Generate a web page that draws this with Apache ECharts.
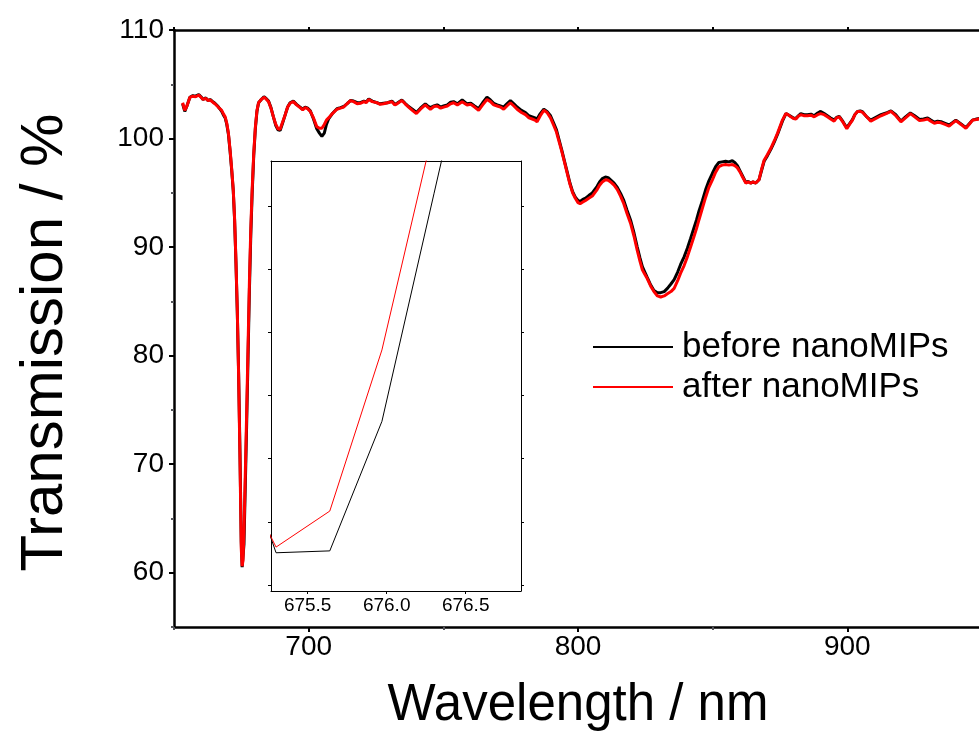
<!DOCTYPE html>
<html>
<head>
<meta charset="utf-8">
<script src="https://cdn.jsdelivr.net/npm/echarts@6/dist/echarts.min.js"></script>
<style>
  html, body { margin: 0; padding: 0; background: #fff; }
  #chart { width: 979px; height: 731px; }
</style>
</head>
<body>
<div id="chart"></div>
<script>
// wavelength (nm) shared by both spectra
const wavelength = [
  653.2, 654.0, 654.8, 655.9, 657.0, 658.0, 659.2, 660.0, 660.8, 661.8,
  662.6, 663.4, 664.4, 665.2, 666.4, 667.7, 668.5, 669.0, 669.6, 670.2,
  670.8, 671.45, 672.0, 672.5, 673.0, 673.5, 674.0, 674.5, 674.97, 675.30,
  675.64, 675.97, 676.30, 676.63, 677.0, 677.5, 678.0, 678.5, 679.0, 679.6,
  680.2, 680.8, 681.4, 682.4, 683.4, 684.2, 685.1, 686.0, 686.9, 687.8,
  688.6, 689.4, 690.3, 691.3, 692.2, 693.1, 694.3, 695.5, 696.8, 697.8,
  698.7, 699.6, 700.6, 701.8, 703.0, 704.0, 704.9, 705.8, 706.6, 707.4,
  708.8, 710.5, 711.8, 713.0, 714.2, 715.5, 716.7, 718.0, 719.2, 720.5,
  721.4, 722.3, 723.6, 725.4, 726.5, 727.8, 729.3, 730.9, 732.0, 732.8,
  734.6, 735.8, 737.1, 738.5, 740.0, 741.5, 743.3, 744.2, 745.2, 746.5,
  747.7, 749.0, 750.1, 751.5, 752.7, 753.8, 755.2, 757.0, 758.8, 760.2,
  761.6, 763.1, 764.6, 766.2, 767.5, 768.7, 770.0, 771.2, 772.4, 773.6,
  774.9, 776.2, 777.4, 779.0, 780.5, 781.8, 783.0, 784.0, 784.8, 786.0,
  787.3, 788.5, 789.8, 791.0, 792.0, 793.0, 794.0, 795.0, 796.0, 797.0,
  798.0, 799.0, 800.0, 800.8, 801.8, 802.8, 804.0, 805.3, 806.2, 807.1,
  808.0, 809.0, 810.2, 811.2, 812.1, 813.4, 814.6, 815.8, 817.0, 818.2,
  819.5, 820.8, 822.0, 823.0, 823.9, 824.8, 825.7, 827.0, 828.2, 829.5,
  830.7, 832.0, 833.2, 834.5, 835.7, 837.0, 838.1, 839.4, 840.6, 841.8,
  843.1, 844.0, 844.9, 846.2, 847.4, 848.6, 849.9, 851.1, 852.3, 853.5,
  854.8, 856.0, 857.3, 858.2, 859.2, 860.2, 861.0, 862.3, 863.2, 864.1,
  865.0, 866.0, 867.2, 868.2, 869.1, 870.3, 871.6, 872.9, 874.1, 875.0,
  875.9, 877.2, 878.0, 879.0, 880.0, 880.9, 881.8, 882.7, 884.0, 885.2,
  886.5, 887.7, 889.0, 890.1, 891.4, 892.6, 893.8, 895.1, 896.0, 897.0,
  898.4, 899.8, 900.8, 901.9, 902.8, 903.8, 904.8, 905.7, 907.2, 908.7,
  910.6, 912.5, 914.4, 916.2, 918.0, 919.9, 921.6, 923.4, 925.0, 926.8,
  928.3, 929.8, 931.0, 932.3, 933.5, 934.8, 936.3, 937.8, 939.0, 940.3,
  942.2, 944.0, 945.2, 946.5, 948.0, 949.3, 951.0
]

// transmission (%) before nanoMIPs
const before = [
  103.2, 102.5, 103.0, 103.8, 103.95, 103.9, 104.05, 103.85, 103.6, 103.75,
  103.5, 103.6, 103.4, 103.25, 102.95, 102.5, 102.1, 101.9, 101.3, 100.4,
  98.9, 97.0, 95.2, 92.5, 88.6, 84.0, 78.3, 71.0, 62.9, 60.51,
  60.54, 62.59, 66.20, 69.8, 74.0, 80.0, 86.0, 91.0, 94.8, 98.4,
  100.9, 102.5, 103.3, 103.6, 103.85, 103.7, 103.45, 102.85, 102.0, 101.2,
  100.8, 100.75, 101.4, 102.2, 102.9, 103.3, 103.45, 103.15, 102.9, 102.7,
  102.9, 102.8, 102.55, 101.8, 100.9, 100.5, 100.2, 100.5, 101.3, 101.8,
  102.3, 102.75, 102.85, 102.95, 103.2, 103.5, 103.45, 103.3, 103.3, 103.45,
  103.35, 103.65, 103.45, 103.3, 103.2, 103.25, 103.3, 103.45, 103.15, 103.25,
  103.55, 103.25, 102.95, 102.7, 102.4, 102.8, 103.2, 103.0, 102.85, 103.0,
  103.1, 102.9, 103.0, 103.1, 103.35, 103.4, 103.2, 103.55, 103.2, 103.25,
  103.0, 102.75, 103.3, 103.8, 103.55, 103.25, 103.1, 103.0, 102.9, 103.2,
  103.5, 103.2, 102.9, 102.6, 102.4, 102.1, 102.0, 101.9, 101.8, 102.3,
  102.7, 102.5, 102.1, 101.4, 100.8, 99.85, 98.9, 97.9, 96.9, 95.9,
  95.1, 94.6, 94.3, 94.2, 94.4, 94.5, 94.75, 95.0, 95.3, 95.6,
  96.0, 96.3, 96.45, 96.4, 96.2, 95.9, 95.5, 94.95, 94.3, 93.4,
  92.5, 91.3, 90.0, 89.0, 88.2, 87.7, 87.2, 86.5, 86.0, 85.8,
  85.8, 85.9, 86.2, 86.6, 87.0, 87.7, 88.4, 89.1, 89.9, 90.8,
  91.8, 92.5, 93.3, 94.3, 95.3, 96.1, 96.8, 97.4, 97.8, 97.85,
  97.9, 97.85, 97.95, 97.8, 97.5, 97.0, 96.6, 95.95, 96.05, 95.9,
  96.0, 95.9, 96.2, 97.1, 97.9, 98.4, 99.0, 99.7, 100.4, 101.0,
  101.6, 102.3, 102.2, 102.05, 101.9, 101.85, 102.1, 102.3, 102.2, 102.2,
  102.25, 102.1, 102.35, 102.5, 102.3, 102.1, 101.9, 101.7, 101.95, 102.05,
  101.55, 101.0, 101.35, 101.75, 102.2, 102.5, 102.55, 102.45, 102.0, 101.7,
  101.95, 102.2, 102.35, 102.55, 102.2, 101.6, 102.0, 102.35, 102.1, 101.75,
  101.8, 101.9, 101.7, 101.5, 101.6, 101.55, 101.4, 101.25, 101.45, 101.7,
  101.35, 101.0, 101.35, 101.7, 101.8, 101.85, 101.9
]

// transmission (%) after nanoMIPs
const after = [
  103.3, 102.6, 103.0, 103.8, 103.9, 103.85, 104.0, 103.8, 103.6, 103.7,
  103.5, 103.55, 103.35, 103.2, 102.9, 102.6, 102.2, 102.0, 101.4, 100.5,
  99.0, 97.1, 95.3, 92.6, 88.7, 84.2, 78.0, 70.4, 62.25, 60.60,
  61.17, 63.72, 67.25, 70.9, 75.0, 81.0, 86.8, 91.6, 95.2, 98.6,
  101.0, 102.6, 103.3, 103.6, 103.8, 103.65, 103.4, 102.8, 102.0, 101.3,
  100.9, 100.85, 101.5, 102.2, 102.9, 103.25, 103.4, 103.1, 102.85, 102.65,
  102.85, 102.75, 102.5, 101.9, 101.1, 100.95, 100.95, 101.3, 101.7, 101.9,
  102.3, 102.7, 102.8, 102.9, 103.2, 103.5, 103.4, 103.2, 103.25, 103.4,
  103.3, 103.6, 103.4, 103.3, 103.15, 103.2, 103.3, 103.4, 103.1, 103.2,
  103.5, 103.2, 102.9, 102.6, 102.3, 102.7, 103.1, 102.9, 102.7, 102.95,
  103.0, 102.8, 102.9, 103.0, 103.2, 103.3, 103.1, 103.4, 103.1, 103.15,
  102.9, 102.6, 103.1, 103.6, 103.4, 103.1, 103.0, 102.9, 102.7, 103.0,
  103.3, 103.0, 102.7, 102.4, 102.2, 101.9, 101.8, 101.7, 101.55, 102.1,
  102.6, 102.4, 101.9, 101.2, 100.6, 99.7, 98.8, 97.8, 96.8, 95.8,
  95.0, 94.5, 94.1, 94.0, 94.15, 94.3, 94.5, 94.7, 95.0, 95.3,
  95.7, 96.0, 96.2, 96.15, 96.0, 95.7, 95.3, 94.7, 94.0, 93.1,
  92.2, 91.0, 89.7, 88.7, 87.9, 87.5, 87.1, 86.4, 85.9, 85.5,
  85.4, 85.5, 85.7, 85.9, 86.2, 86.9, 87.6, 88.3, 89.1, 90.0,
  91.0, 91.7, 92.5, 93.6, 94.6, 95.5, 96.2, 96.9, 97.4, 97.55,
  97.6, 97.55, 97.6, 97.5, 97.3, 96.9, 96.5, 95.9, 96.0, 95.9,
  96.0, 95.9, 96.2, 97.2, 98.0, 98.5, 99.1, 99.8, 100.5, 101.1,
  101.7, 102.3, 102.2, 102.0, 101.85, 101.8, 102.05, 102.2, 102.1, 102.1,
  102.15, 102.0, 102.2, 102.3, 102.2, 102.0, 101.8, 101.6, 101.9, 102.0,
  101.5, 100.9, 101.3, 101.7, 102.2, 102.5, 102.5, 102.4, 102.0, 101.6,
  101.85, 102.1, 102.3, 102.5, 102.1, 101.55, 101.9, 102.3, 102.0, 101.65,
  101.7, 101.8, 101.6, 101.4, 101.5, 101.45, 101.3, 101.15, 101.4, 101.65,
  101.3, 100.95, 101.3, 101.7, 101.75, 101.85, 101.9
]

const seriesNames = ['before nanoMIPs', 'after nanoMIPs']

// tick values
const xTicks = [700, 800, 900]
const xMinorTicks = [650, 750, 850, 950]
const yTicks = [60, 70, 80, 90, 100, 110]
const yMinorTicks = [55, 65, 75, 85, 95, 105]
const insetXTicks = [675.5, 676.0, 676.5]
const insetYTicks = [60, 61, 62, 63, 64, 65, 66]

const font = '"Liberation Sans", Arial, sans-serif'
const black = '#000'
const red = '#ff0000'

const pairs = ys => wavelength.map((w, i) => [w, ys[i]])

const frame = (w) => ({ show: true, lineStyle: { color: black, width: w } })

const option = {
  animation: false,
  backgroundColor: '#fff',
  textStyle: { fontFamily: font, color: black },
  grid: [
    { left: 174, top: 30, right: -3, bottom: 104, outerBoundsMode: 'none' },
    { left: 271, top: 161, width: 250, height: 430, outerBoundsMode: 'none' }
  ],
  legend: {
    data: seriesNames,
    orient: 'vertical',
    left: 593,
    top: 327,
    padding: 0,
    itemGap: 0,
    icon: 'rect',
    itemWidth: 80,
    itemHeight: 2,
    textStyle: {
      fontSize: 35, color: black, fontFamily: font, lineHeight: 40,
      padding: [0, 0, 0, 4]
    }
  },
  xAxis: [
    {
      gridIndex: 0, type: 'value', position: 'bottom', min: 650, max: 950,
      name: 'Wavelength / nm', nameLocation: 'middle', nameGap: 53,
      nameTextStyle: { fontSize: 51, color: black, fontFamily: font },
      axisLine: frame(2.5),
      axisTick: { customValues: xTicks, length: 5, lineStyle: { width: 2 } },
      axisLabel: { customValues: xTicks, fontSize: 28, margin: 6, color: black },
      splitLine: { show: false }
    },
    {
      gridIndex: 0, type: 'value', position: 'bottom', min: 650, max: 950,
      axisLine: { show: false },
      axisTick: { customValues: xMinorTicks, length: 3, lineStyle: { width: 2 } },
      axisLabel: { show: false },
      splitLine: { show: false }
    },
    {
      gridIndex: 0, type: 'value', position: 'top', min: 650, max: 950,
      axisLine: frame(2.5),
      axisTick: { customValues: xTicks.concat(xMinorTicks), length: 3, lineStyle: { width: 2 } },
      axisLabel: { show: false },
      splitLine: { show: false }
    },
    {
      gridIndex: 1, type: 'value', position: 'bottom', min: 675.268, max: 676.85,
      axisLine: frame(1),
      axisTick: { customValues: insetXTicks, length: 3 },
      axisLabel: {
        customValues: insetXTicks, fontSize: 19, margin: 5, color: black,
        formatter: v => v.toFixed(1)
      },
      splitLine: { show: false }
    },
    {
      gridIndex: 1, type: 'value', position: 'top', min: 675.268, max: 676.85,
      axisLine: frame(1),
      axisTick: { show: false },
      axisLabel: { show: false },
      splitLine: { show: false }
    }
  ],
  yAxis: [
    {
      gridIndex: 0, type: 'value', position: 'left', min: 55, max: 110,
      name: 'Transmission / %', nameLocation: 'middle', nameGap: 99,
      nameTextStyle: { fontSize: 60, color: black, fontFamily: font, padding: [0, 28, 0, 0] },
      axisLine: frame(2.5),
      axisTick: { customValues: yTicks, length: 5, lineStyle: { width: 2 } },
      axisLabel: { customValues: yTicks, fontSize: 28, margin: 10, color: black },
      splitLine: { show: false }
    },
    {
      gridIndex: 0, type: 'value', position: 'left', min: 55, max: 110,
      axisLine: { show: false },
      axisTick: { customValues: yMinorTicks, length: 3, lineStyle: { width: 2 } },
      axisLabel: { show: false },
      splitLine: { show: false }
    },
    {
      gridIndex: 1, type: 'value', position: 'left', min: 59.905, max: 66.71,
      axisLine: frame(1),
      axisTick: { customValues: insetYTicks, length: 3 },
      axisLabel: { show: false },
      splitLine: { show: false }
    },
    {
      gridIndex: 1, type: 'value', position: 'right', min: 59.905, max: 66.71,
      axisLine: frame(1),
      axisTick: { customValues: insetYTicks, length: 3 },
      axisLabel: { show: false },
      splitLine: { show: false }
    }
  ],
  series: [
    { name: seriesNames[0], data: pairs(before), xAxisIndex: 0, yAxisIndex: 0, color: black, lineStyle: { width: 3 } },
    { name: seriesNames[1], data: pairs(after), xAxisIndex: 0, yAxisIndex: 0, color: red, lineStyle: { width: 3 } },
    { name: 'inset before', data: pairs(before), xAxisIndex: 3, yAxisIndex: 2, color: black, lineStyle: { width: 1 } },
    { name: 'inset after', data: pairs(after), xAxisIndex: 3, yAxisIndex: 2, color: red, lineStyle: { width: 1 } }
  ].map(o => ({
    ...o,
    type: 'line',
    symbol: 'none',
    clip: true,
    silent: true
  }))
}

const chart = echarts.init(document.getElementById('chart'))
chart.setOption(option)
</script>
</body>
</html>
